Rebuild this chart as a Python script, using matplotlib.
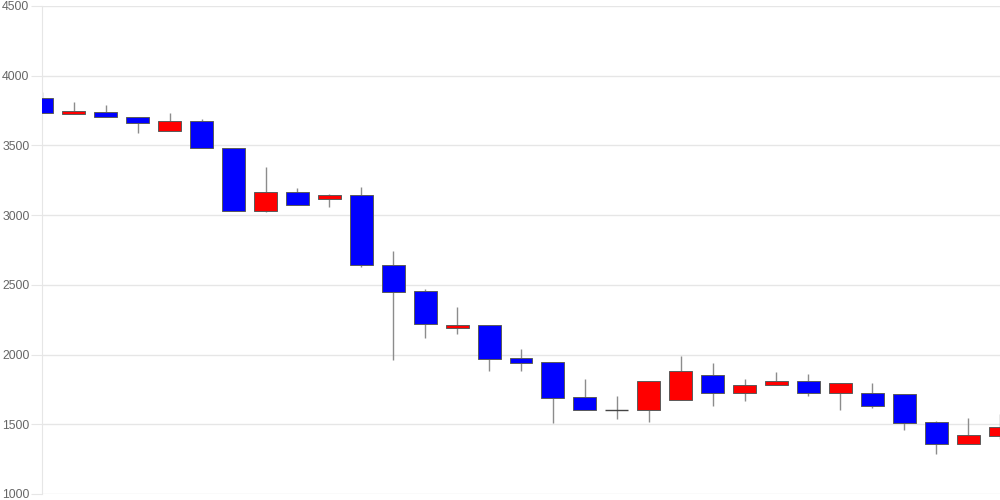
import numpy as np
import matplotlib.pyplot as plt

# OHLC values (one candle per period)
opens = [3842, 3727, 3742, 3702, 3601, 3673, 3479, 3032, 3164, 3119,
         3142, 2640, 2454, 2189, 2210, 1973, 1944, 1694, 1603, 1600,
         1672, 1853, 1722, 1780, 1813, 1722, 1724, 1715, 1514, 1361, 1418]
highs = [3883, 3811, 3790, 3702, 3730, 3687, 3479, 3343, 3193, 3152,
         3204, 2743, 2470, 2341, 2210, 2040, 1944, 1823, 1703, 1811,
         1990, 1940, 1823, 1873, 1861, 1794, 1794, 1715, 1524, 1543, 1574]
lows = [3730, 3727, 3702, 3591, 3601, 3479, 3032, 3020, 3071, 3061,
        2630, 1961, 2121, 2150, 1882, 1882, 1511, 1600, 1536, 1519,
        1672, 1631, 1669, 1780, 1700, 1600, 1619, 1461, 1289, 1361, 1392]
closes = [3730, 3745, 3702, 3661, 3673, 3479, 3032, 3164, 3071, 3144,
          2640, 2451, 2219, 2212, 1970, 1940, 1691, 1600, 1603, 1811,
          1880, 1722, 1782, 1813, 1722, 1794, 1629, 1511, 1361, 1421, 1480]

y_ticks = [1000, 1500, 2000, 2500, 3000, 3500, 4000, 4500]

o = np.array(opens)
h = np.array(highs)
l = np.array(lows)
c = np.array(closes)
x = np.arange(len(o))

plt.rcParams['font.family'] = ['Liberation Sans', 'DejaVu Sans']

fig = plt.figure(figsize=(10, 5), dpi=100)
ax = fig.add_axes([0.042, 0.012, 0.958, 0.976])

# wicks
ax.vlines(x, l, h, color='#8c8c8c', linewidth=1, zorder=2)

up = c > o
down = c < o
flat = c == o
ax.bar(x[up], (c - o)[up], bottom=o[up], width=0.72, color='#ff0000',
       edgecolor='#5a5a5a', linewidth=0.7, zorder=3)
ax.bar(x[down], (o - c)[down], bottom=c[down], width=0.72, color='#0000ff',
       edgecolor='#5a5a5a', linewidth=0.7, zorder=3)
ax.hlines(o[flat], x[flat] - 0.36, x[flat] + 0.36, color='#444444',
          linewidth=1, zorder=3)

ax.set_xlim(0, len(o) - 1)
ax.set_ylim(1000, 4500)
ax.set_yticks(y_ticks)
ax.set_xticks([])
ax.grid(axis='y', color='#e6e6e6', linewidth=1)
ax.set_axisbelow(True)

for side in ['top', 'right', 'bottom']:
    ax.spines[side].set_visible(False)
ax.spines['left'].set_color('#e6e6e6')
ax.tick_params(axis='y', length=8, color='#e6e6e6', labelcolor='#666666',
               labelsize=8.8, pad=1)

fig.savefig('out.png', dpi=100)
